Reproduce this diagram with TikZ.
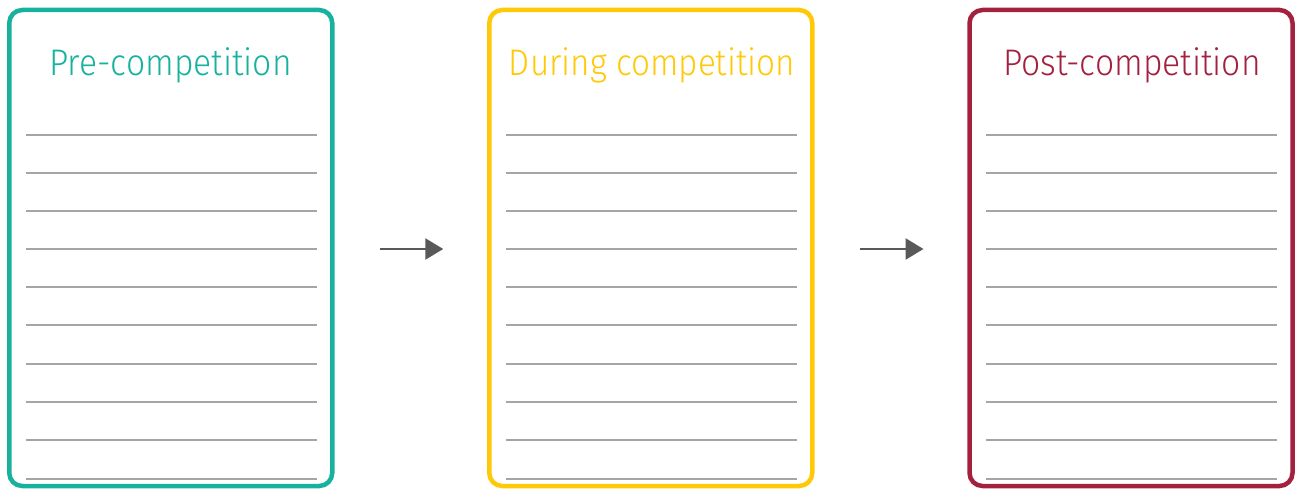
\documentclass[tikz,border=0pt]{standalone}
\usepackage{fontspec}
\usetikzlibrary{arrows.meta,calc}
\newfontfamily\titlefont{Fira Sans Light}
\definecolor{cteal}{HTML}{17B29E}
\definecolor{cyel}{HTML}{FFC908}
\definecolor{cred}{HTML}{A3213F}
\definecolor{cline}{HTML}{A5A5A5}
\definecolor{carrow}{HTML}{595959}
\begin{document}
\begin{tikzpicture}[x=1pt,y=-1pt,
  panel/.style={draw=#1,line width=4.5pt,rounded corners=13pt,minimum width=323pt,minimum height=476pt,inner sep=0pt,outer sep=0pt},
  ttl/.style={text=#1,anchor=base,inner sep=0pt,font=\titlefont\fontsize{37}{37}\selectfont},
  ruled/.style={draw=cline,line width=2pt},
  arr/.style={draw=carrow,line width=2.5pt,-{Triangle[length=18pt,width=21pt]}}]
\useasboundingbox (0,0) rectangle (1300,489);
\node[panel=cteal] (b1) at (170.75,248) {};
\node[panel=cyel] (b2) at (650.75,248) {};
\node[panel=cred] (b3) at (1131,248) {};
\node[ttl=cteal] (t1) at (170.5,76) {\scalebox{0.91}[1]{Pre-competition}};
\node[ttl=cyel] (t2) at (652,76) {\scalebox{0.9}[1]{During competition}};
\node[ttl=cred] (t3) at (1132,76) {\scalebox{0.91}[1]{Post-competition}};
\foreach \b in {b1,b2,b3}{
  \foreach \yy in {135,173,211,249,287,325,364,402,440,479}{
    \draw[ruled] ($(\b.west)+(16.5,\yy-248)$) -- ++(291,0);
  }
}
\coordinate (a1s) at ($(b1.east)+(48,1)$);
\coordinate (a1e) at ($(b2.west)+(-46,1)$);
\coordinate (a2s) at ($(b2.east)+(48,1)$);
\coordinate (a2e) at ($(b3.west)+(-46,1)$);
\draw[arr] (a1s) -- (a1e);
\draw[arr] (a2s) -- (a2e);
\end{tikzpicture}
\end{document}
